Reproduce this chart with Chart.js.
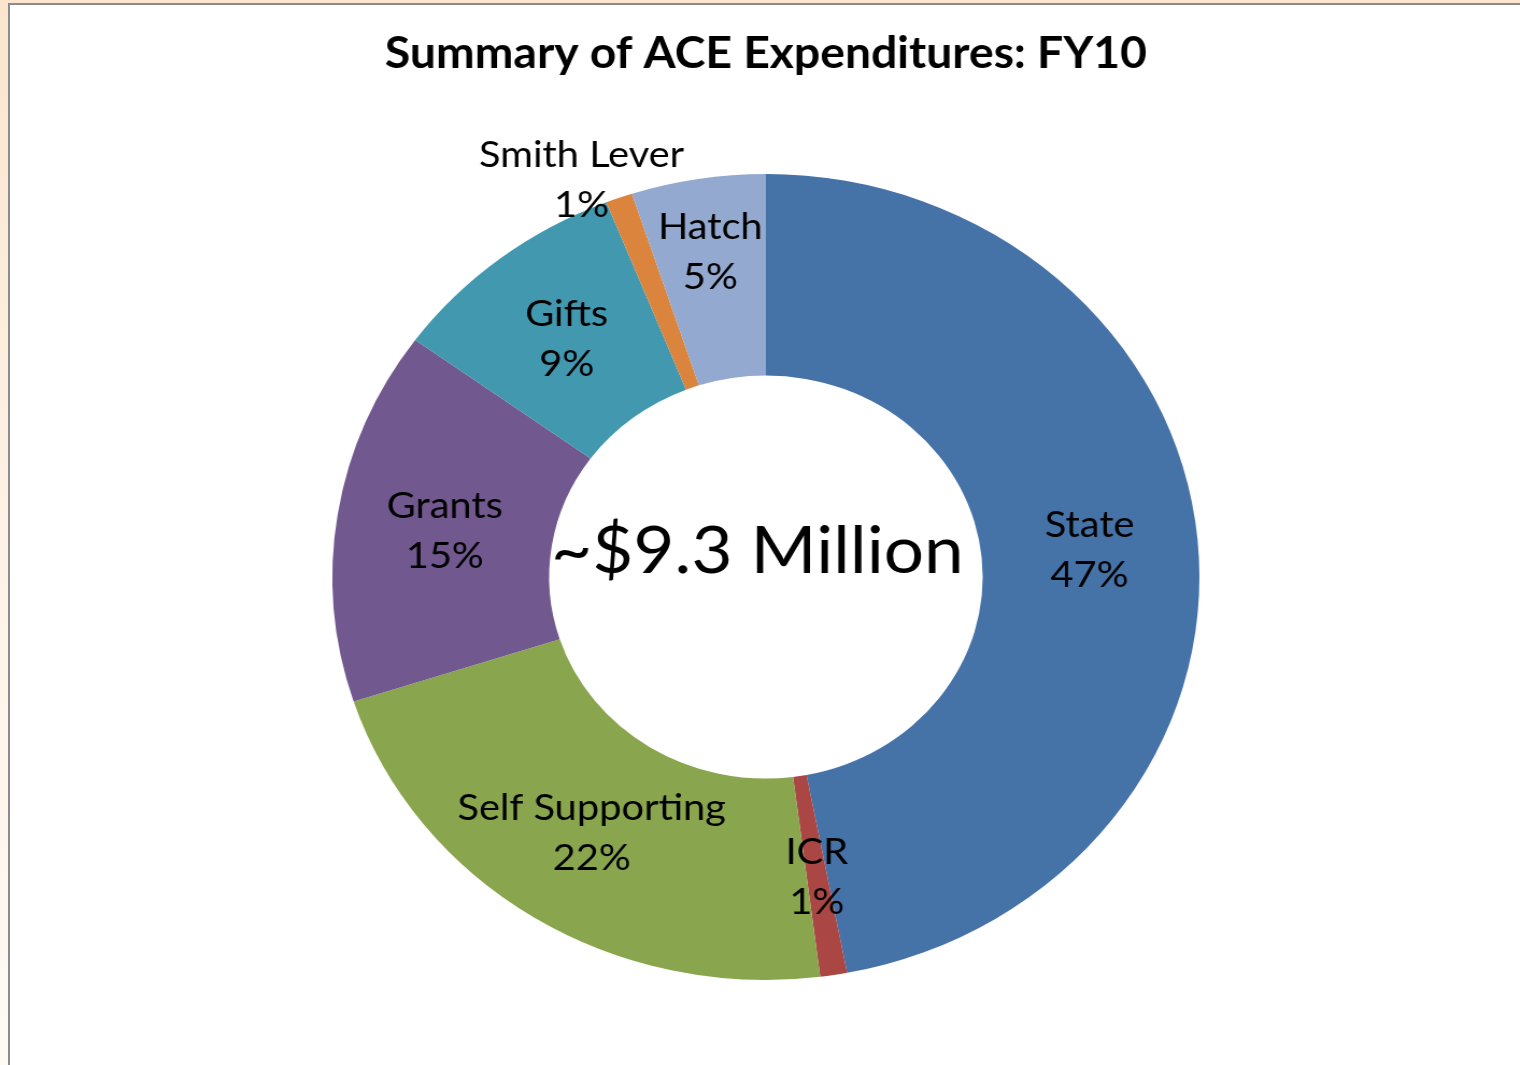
<!DOCTYPE html>
<html>
<head>
<meta charset="utf-8">
<title>Summary of ACE Expenditures: FY10</title>
<script src="https://cdn.jsdelivr.net/npm/chart.js@4.4.0/dist/chart.umd.min.js"></script>
<style>
  html, body { margin: 0; padding: 0; }
  body {
    width: 1520px; height: 1065px; overflow: hidden; position: relative;
    background: linear-gradient(to bottom, #fbe5cd 0%, #fdf1e4 45%, #fffaf5 100%);
  }
  #frame {
    position: absolute; left: 8px; top: 3px; right: 0; bottom: 0;
    background: #fff;
    border-left: 2px solid #8c8c8c;
    border-top: 2px solid #8c8c8c;
  }
  /* drawn narrower, then widened a little, like the slide it came from */
  #wrap {
    position: absolute; left: 0; top: 0; width: 1413px; height: 1065px;
    transform: scaleX(1.0757); transform-origin: 0 0;
  }
</style>
</head>
<body>
<div id="frame"></div>
<div id="wrap"><canvas id="myChart" width="1413" height="1065"></canvas></div>
<script>
const titleText = "Summary of ACE Expenditures: FY10";
const centerText = "~$9.3 Million";

const categories = ["State", "ICR", "Self Supporting", "Grants", "Gifts", "Smith Lever", "Hatch"];
const shares = [47, 1, 22, 15, 9, 1, 5];
const colors = ["#4572A7", "#AA4643", "#89A54E", "#71588F", "#4198AF", "#DB843D", "#93A9CF"];

// where each label sits: fraction across the ring (0 inner, 1 outer) and a nudge in degrees
const labelRing = [0.5, 0.5, 0.5, 0.5, 0.5, 1.15, 0.64];
const labelNudge = [0, 0, 0, 0, 0, -3.5, 0];

const FONT = "Lato, 'Open Sans', sans-serif";

const textPlugin = {
  id: "doughnutText",
  afterDraw(chart) {
    const ctx = chart.ctx;
    const arcs = chart.getDatasetMeta(0).data;
    const cx = arcs[0].x, cy = arcs[0].y;

    ctx.save();
    ctx.fillStyle = "#000";
    ctx.textAlign = "center";
    ctx.textBaseline = "alphabetic";

    // title
    ctx.font = "bold 43px " + FONT;
    ctx.fillText(titleText, cx, 68);

    // total in the hole
    ctx.font = "66px " + FONT;
    ctx.fillText(centerText, cx - 8, cy - 4);

    // slice labels: name and share on two lines
    ctx.font = "37px " + FONT;
    arcs.forEach((arc, i) => {
      const p = arc.getProps(["startAngle", "endAngle", "innerRadius", "outerRadius"], true);
      const mid = (p.startAngle + p.endAngle) / 2 + labelNudge[i] * Math.PI / 180;
      const r = p.innerRadius + labelRing[i] * (p.outerRadius - p.innerRadius);
      const x = cx + Math.cos(mid) * r;
      const y = cy + Math.sin(mid) * r;
      ctx.fillText(categories[i], x, y - 12);
      ctx.fillText(shares[i] + "%", x, y + 38);
    });
    ctx.restore();
  }
};

let ctx = document.getElementById("myChart").getContext("2d");
let chart = new Chart(ctx, {
  type: "doughnut",
  data: {
    labels: categories,
    datasets: [
      {
        data: shares,
        backgroundColor: colors,
        borderWidth: 0,
      }
    ],
  },
  options: {
    responsive: false,
    animation: false,
    cutout: "50%",
    layout: {
      padding: { top: 174, bottom: 85, left: 309, right: 298 }
    },
    plugins: {
      legend: { display: false },
      tooltip: { enabled: false },
    },
  },
  plugins: [textPlugin],
});
</script>
</body>
</html>
